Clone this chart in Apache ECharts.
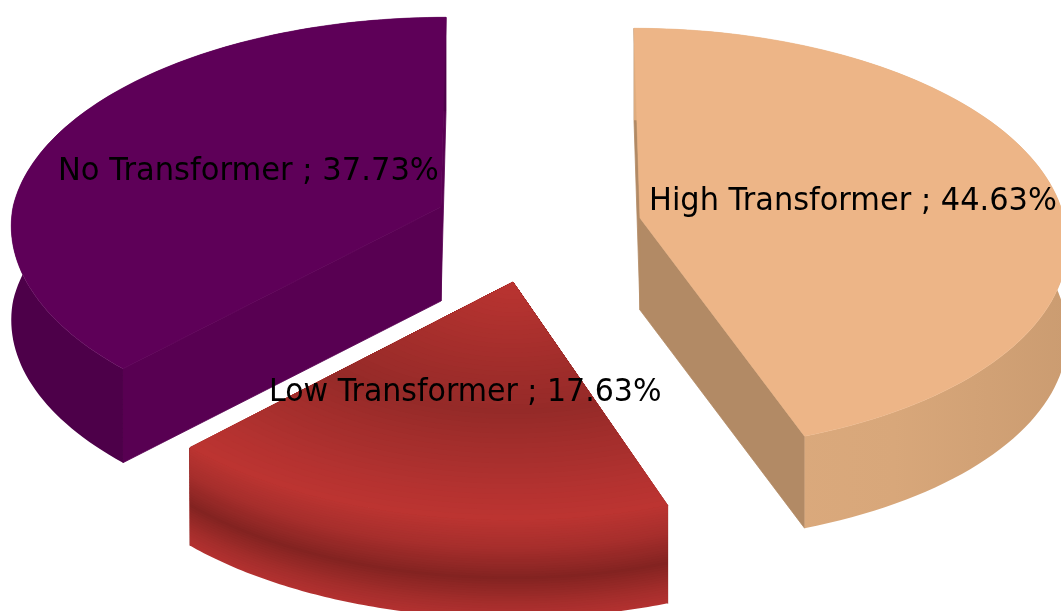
<!DOCTYPE html>
<html>
<head>
<meta charset="utf-8">
<style>
  html, body { margin: 0; padding: 0; background: #fff; }
  #chart { width: 1061px; height: 611px; }
</style>
</head>
<body>
<div id="chart"></div>
<script src="https://cdn.jsdelivr.net/npm/echarts@6/dist/echarts.min.js"></script>
<script>
// slices run clockwise from 12 o'clock
var categories = ["High Transformer", "Low Transformer", "No Transformer"];
var percents = [44.63, 17.63, 37.73];

// where each exploded slice sits on the page
var centerX = [640, 513, 441];
var centerY = [218, 282, 207];
var radiusX = [424, 428, 428];
var radiusY = [209, 214, 209];
var depths = [92, 98, 94];
var skewBack = [-6, 2, 5];
var skewFront = [-10, 2, -5];
var labelX = [649, 269, 58];
var labelY = [202, 393, 172];
var labelScale = [0.951, 0.938, 0.955];

// color ramps: top face by radius, rim by depth
var topRamps = [
  [[0, "#edb587"], [1, "#edb587"]],
  [[0, "#bb3431"], [0.58, "#952a28"], [0.9, "#b43230"], [1, "#bc3431"]],
  [[0, "#5e0058"], [1, "#5e0058"]]
];
var rimRamps = [
  [[0, "#d8a77a"], [1, "#d8a77a"]],
  [[0, "#bb3431"], [0.3, "#a62e2c"], [0.6, "#832321"], [0.85, "#a32d2b"], [1, "#b23130"]],
  [[0, "#4d0049"], [1, "#4d0049"]]
];
var sideColors = ["#b28a65", "#8f2826", "#580052"];

var PERSPECTIVE = 0.1016;
var STEPS = 100;

function hexRgb(h) {
  return [parseInt(h.substr(1, 2), 16), parseInt(h.substr(3, 2), 16), parseInt(h.substr(5, 2), 16)];
}

function rampColor(ramp, t) {
  for (var i = 1; i < ramp.length; i++) {
    if (t <= ramp[i][0]) {
      var a = hexRgb(ramp[i - 1][1]), b = hexRgb(ramp[i][1]);
      var f = (t - ramp[i - 1][0]) / ((ramp[i][0] - ramp[i - 1][0]) || 1);
      return "rgb(" + a.map(function (c, k) { return Math.round(c + (b[k] - c) * f); }).join(",") + ")";
    }
  }
  return ramp[ramp.length - 1][1];
}

// unit disk point to page, with a little perspective
function project(i, angle, r, drop) {
  var u = r * Math.sin(angle), v = r * Math.cos(angle);
  var s = 1 / (1 + PERSPECTIVE * v);
  var skew = v > 0 ? skewBack[i] : skewFront[i];
  return [
    centerX[i] + radiusX[i] * u * s + skew * v,
    centerY[i] - radiusY[i] * v * s + (drop || 0)
  ];
}

function arcPoints(i, a0, a1, r, drop) {
  var pts = [];
  for (var k = 0; k <= STEPS; k++) {
    pts.push(project(i, a0 + (a1 - a0) * k / STEPS, r, drop));
  }
  return pts;
}

function polygon(points, fill, seam) {
  var style = { fill: fill };
  if (seam) {
    style.stroke = fill;
    style.lineWidth = seam;
  }
  return { type: "polygon", shape: { points: points }, style: style, silent: true };
}

function renderSlice(params, api) {
  var i = params.dataIndex;
  var total = percents.reduce(function (a, b) { return a + b; }, 0);
  var before = percents.slice(0, i).reduce(function (a, b) { return a + b; }, 0);
  var a0 = before / total * Math.PI * 2;
  var a1 = (before + api.value(0)) / total * Math.PI * 2;
  var depth = depths[i];
  var children = [];

  // cut faces go first, the rim and top cover whatever should not show
  [a0, a1].forEach(function (a) {
    var o = project(i, a, 0, 0), e = project(i, a, 1, 0);
    children.push(polygon([o, e, [e[0], e[1] + depth], [o[0], o[1] + depth]], sideColors[i], 0.8));
  });

  // rim, painted bottom up so the bands follow the curve
  var rimFill = null;
  if (i === 0) {
    rimFill = new echarts.graphic.LinearGradient(0, 0, 1, 0, [
      { offset: 0, color: "#deac7f" },
      { offset: 0.6, color: "#d8a77a" },
      { offset: 1, color: "#cb9c71" }
    ]);
  }
  var layers = rimRamps[i].length > 2 ? 40 : 1;
  var edge = arcPoints(i, a0, a1, 1, 0);
  for (var d = layers; d >= 1; d--) {
    var t = d / layers;
    var low = arcPoints(i, a0, a1, 1, depth * t).reverse();
    children.push(polygon(edge.concat(low), rimFill || rampColor(rimRamps[i], t)));
  }

  // top face, nested from the outside in
  var rings = topRamps[i].length > 2 ? 50 : 1;
  for (var n = rings; n >= 1; n--) {
    var r = n / rings;
    var pts = arcPoints(i, a0, a1, r, 0);
    pts.push(project(i, a0, 0, 0));
    children.push(polygon(pts, rampColor(topRamps[i], r), n === rings ? 0.6 : 0));
  }

  children.push({
    type: "text",
    silent: true,
    x: labelX[i],
    y: labelY[i],
    scaleX: labelScale[i],
    z2: 10,
    style: {
      text: categories[i] + " ; " + api.value(0).toFixed(2) + "%",
      font: "32px 'DejaVu Sans'",
      fill: "#000",
      align: "left",
      verticalAlign: "middle"
    }
  });

  return { type: "group", children: children };
}

var chart = echarts.init(document.getElementById("chart"));
chart.setOption({
  animation: false,
  backgroundColor: "#fff",
  series: [{
    type: "custom",
    coordinateSystem: "none",
    renderItem: renderSlice,
    silent: true,
    data: percents.map(function (p, i) { return { name: categories[i], value: [p] }; })
  }]
});
</script>
</body>
</html>
